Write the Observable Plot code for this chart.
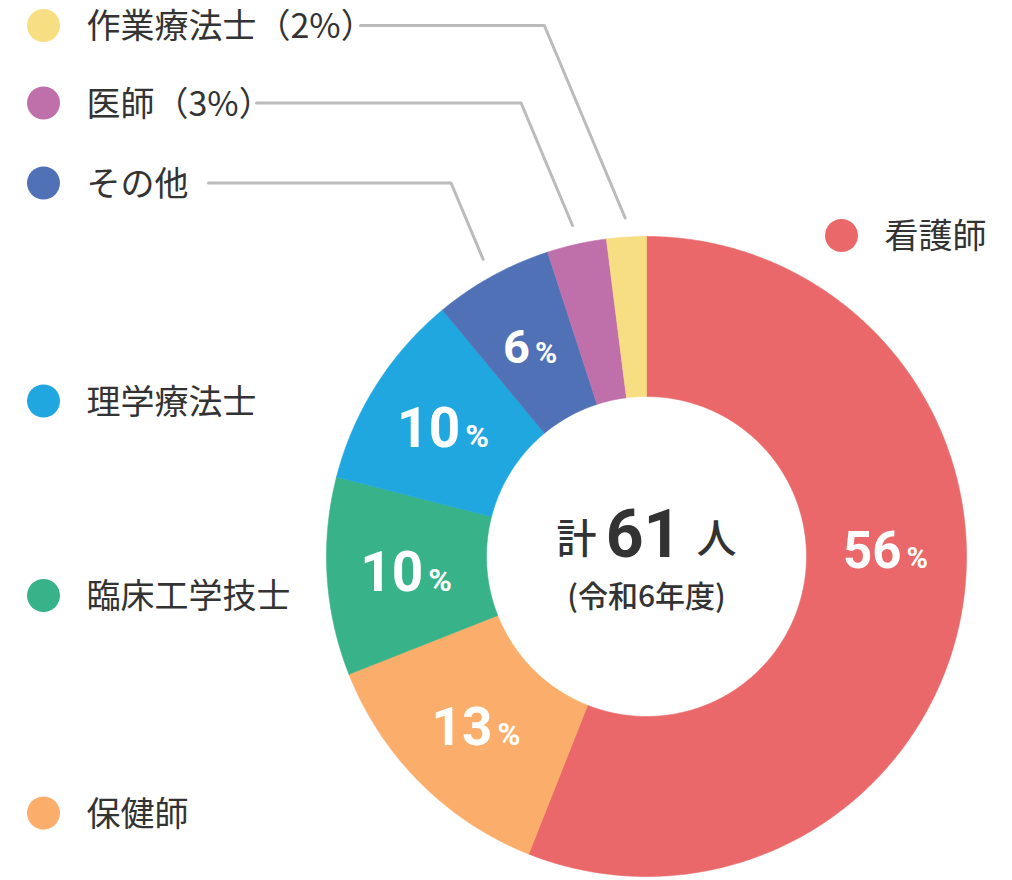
<!DOCTYPE html>
<html><head><meta charset="utf-8">
<script src="https://cdn.jsdelivr.net/npm/d3@7"></script>
<script src="https://cdn.jsdelivr.net/npm/@observablehq/plot@0.6"></script>
<style>body{margin:0;background:#fff} #chart svg{display:block}</style>
</head><body><div id="chart"></div>
<script>
// ---- data ----
const categories = ["看護師","保健師","臨床工学技士","理学療法士","その他","医師","作業療法士"];
const percents = [56,13,10,10,6,3,2];
const colors = ["#EA6869","#FBAE6B","#38B288","#21A7DF","#5071B6","#BF70AA","#F7DE82"];
const legendLabels = ["看護師","保健師","臨床工学技士","理学療法士","その他","医師（3%）","作業療法士（2%）"];
const totalPrefix = "計";
const totalValue = "61";
const totalSuffix = "人";
const yearLabel = "(令和6年度)";

// ---- layout (pixels) ----
const W = 1012, H = 880, CX = 646, CY = 556, R = 320, INNER = 0.5, LABEL_R = 0.75, LEADER_R = 1.06;
const legendPos = [[841,235],[43,812.5],[43,595],[43,400.5],[43,182.5],[43,102.5],[43,25]];
const leaderStartX = {4: 208, 5: 256, 6: 360};
const numSizes = [51,53,55,55,47,0,0];
const pctSizes = [29,31,32,32,30,0,0];
const bigLabelAngle = 88.3;

const ux = px => (px - CX) / R;
const uy = py => (CY - py) / R;

// slices
const total = d3.sum(percents);
let acc = 0;
const slices = categories.map((name, i) => {
  const a0 = acc / total * 2 * Math.PI;
  acc += percents[i];
  const a1 = acc / total * 2 * Math.PI;
  return {name, i, a0, a1, mid: (a0 + a1) / 2};
});

const polyPts = [];
for (const s of slices) {
  const n = Math.max(4, Math.ceil((s.a1 - s.a0) / (Math.PI / 360)));
  const pts = [];
  for (let k = 0; k <= n; k++) {
    const a = s.a0 + (s.a1 - s.a0) * k / n;
    pts.push({name: s.name, x: Math.sin(a), y: Math.cos(a)});
  }
  for (let k = n; k >= 0; k--) {
    const a = s.a0 + (s.a1 - s.a0) * k / n;
    pts.push({name: s.name, x: INNER * Math.sin(a), y: INNER * Math.cos(a)});
  }
  pts.push({...pts[0]});
  polyPts.push(...pts);
}

// percent labels
const numLabels = [], pctLabels = [];
slices.forEach(s => {
  if (percents[s.i] < 5) return;
  const ang = s.i === 0 ? bigLabelAngle * Math.PI / 180 : s.mid;
  const lx = LABEL_R * Math.sin(ang), ly = LABEL_R * Math.cos(ang);
  const ns = numSizes[s.i], ps = pctSizes[s.i];
  const txt = String(percents[s.i]);
  const numW = txt.length * 0.57 * ns, pctW = 0.75 * ps, gap = 6;
  const numEnd = (numW - gap - pctW) / 2;
  const base = uy(CY + 0.711 * ns / 2);
  numLabels.push({x: lx + numEnd / R, y: ly + base, t: txt, size: ns});
  pctLabels.push({x: lx + (numEnd + gap - 1) / R, y: ly + base, t: "%", size: ps});
});

// legend
const legend = categories.map((name, i) => ({
  name, label: legendLabels[i],
  x: ux(legendPos[i][0]), y: uy(legendPos[i][1]),
  tx: ux(legendPos[i][0] + 43)
}));

// leaders
const leaders = [];
for (const [iStr, sx] of Object.entries(leaderStartX)) {
  const i = +iStr, s = slices[i];
  const ex = LEADER_R * Math.sin(s.mid), ey = LEADER_R * Math.cos(s.mid);
  const ly = uy(legendPos[i][1]);
  const elbowX = ex - 0.42 * (ly - ey);
  leaders.push({k: i, x: ux(sx), y: ly}, {k: i, x: elbowX, y: ly}, {k: i, x: ex, y: ey});
}

const center = [{x: 0, y: 0}];

const chart = Plot.plot({
  width: W, height: H,
  marginTop: 0, marginRight: 0, marginBottom: 0, marginLeft: 0,
  x: {domain: [-1, 1], range: [CX - R, CX + R], axis: null},
  y: {domain: [-1, 1], range: [CY + R, CY - R], axis: null},
  color: {domain: categories, range: colors},
  style: {fontFamily: "'Noto Sans CJK JP', Roboto, sans-serif", background: "#fff", overflow: "visible"},
  marks: [
    Plot.line(polyPts, {x: "x", y: "y", z: "name", fill: "name", stroke: "name", strokeWidth: 0.6, curve: "linear"}),
    Plot.line(leaders, {x: "x", y: "y", z: "k", stroke: "#BBBBBB", strokeWidth: 3, curve: "linear"}),
    Plot.dot(legend, {x: "x", y: "y", r: 16.5, fill: "name"}),
    Plot.text(legend, {x: "tx", y: "y", text: "label", textAnchor: "start", lineAnchor: "bottom", dy: 12.5, fontSize: 34, fill: "#333"}),
    Plot.text(numLabels, {x: "x", y: "y", text: "t", fontSize: "size", textAnchor: "end", lineAnchor: "bottom", fill: "#fff", fontWeight: 700, fontFamily: "Roboto"}),
    Plot.text(pctLabels, {x: "x", y: "y", text: "t", fontSize: "size", textAnchor: "start", lineAnchor: "bottom", fill: "#fff", fontWeight: 700, fontFamily: "Roboto"}),
    Plot.text(center, {x: "x", y: "y", text: () => totalPrefix, fontSize: 40, dx: -70, dy: -4, lineAnchor: "bottom", fill: "#333", fontWeight: 500}),
    Plot.text(center, {x: "x", y: "y", text: () => totalValue, fontSize: 66, dx: -3, dy: 0, lineAnchor: "bottom", fill: "#333", fontWeight: 700, fontFamily: "Roboto"}),
    Plot.text(center, {x: "x", y: "y", text: () => totalSuffix, fontSize: 40, dx: 70, dy: -4, lineAnchor: "bottom", fill: "#333", fontWeight: 500}),
    Plot.text(center, {x: "x", y: "y", text: () => yearLabel, fontSize: 30, dx: 0, dy: 50, lineAnchor: "bottom", fill: "#333", fontWeight: 500})
  ]
});
document.getElementById("chart").append(chart);
</script>
</body></html>
